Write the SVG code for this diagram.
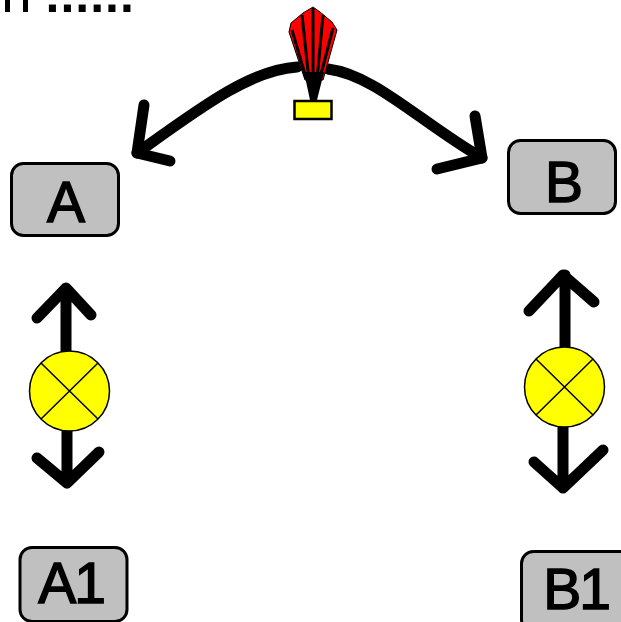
<svg xmlns="http://www.w3.org/2000/svg" width="621" height="622" viewBox="0 0 621 622">
<style>
.box{fill:#c0c0c0;stroke:#000;stroke-width:3}
.lbl{font-family:"Liberation Sans",Arial,sans-serif;font-size:57px;fill:#000;stroke:#000;stroke-width:1.500;text-anchor:middle}
.arrow{fill:none;stroke:#000;stroke-width:11;stroke-linecap:round;stroke-linejoin:round}
.hdr{font-family:"Liberation Sans",Arial,sans-serif;font-size:54px;fill:#000}
.dots{font-family:"Liberation Sans",Arial,sans-serif;font-size:50px;font-weight:bold;letter-spacing:1px;fill:#000}
.ball{fill:#ff0;stroke:#000;stroke-width:1.5}
.x{stroke:#000;stroke-width:1.5;fill:none}
.rib{stroke:#000;stroke-width:3;fill:none}
</style>
<rect width="621" height="622" fill="#fff"/>
<text class="hdr" x="0" y="12" letter-spacing="3">II</text>
<text class="dots" x="45.500" y="12">......</text>
<g id="connectors">
<path class="arrow" d="M297 67C250 70 200 108 137 153"/>
<path class="arrow" d="M144 105L137 153L170 161"/>
<path class="arrow" d="M328 69C375 75 420 122 482 158"/>
<path class="arrow" d="M475 116L482 158L437 169"/>
<path class="arrow" d="M66 350V288M37 318L66 288L91 315"/>
<path class="arrow" d="M67 430V483M37 458L67 483L99 452"/>
<path class="arrow" d="M565 350V275M529 311L563 275L594 302"/>
<path class="arrow" d="M563 425V488M534 462L563 488L603 450"/>
</g>
<g id="fan">
<path d="M313 7L303 13L291 23L289 32L305 80H323L337 30L332 22L320 12Z" fill="#f00" stroke="#000" stroke-width="1"/>
<path class="rib" d="M313 8V80M302 15L309 80M292 30L306 78M323 15L317 80M333 28L320 78"/>
<path d="M304 72H324L317 100H310Z" fill="#000"/>
<rect x="294.500" y="101" width="37" height="18" fill="#ff0" stroke="#000" stroke-width="2.500"/>
</g>
<g id="node-a">
<rect class="box" x="11.500" y="163.500" width="107" height="72" rx="12"/>
<text class="lbl" x="66" y="222">A</text>
</g>
<g id="node-b">
<rect class="box" x="508.500" y="140.500" width="107" height="73" rx="12"/>
<text class="lbl" x="564" y="202">B</text>
</g>
<g id="node-a1">
<rect class="box" x="20" y="547.500" width="107" height="74" rx="12"/>
<text class="lbl" x="71" y="603" letter-spacing="-2">A1</text>
</g>
<g id="node-b1">
<rect class="box" x="521.500" y="551.500" width="110" height="80" rx="12"/>
<text class="lbl" x="576" y="609" letter-spacing="-2">B1</text>
</g>
<g id="lamp-left">
<circle class="ball" cx="69.500" cy="391" r="40"/>
<path class="x" d="M41 363L98 419M41 419L98 363"/>
</g>
<g id="lamp-right">
<circle class="ball" cx="564.500" cy="387" r="40"/>
<path class="x" d="M536 359L593 415M536 415L593 359"/>
</g>
</svg>
